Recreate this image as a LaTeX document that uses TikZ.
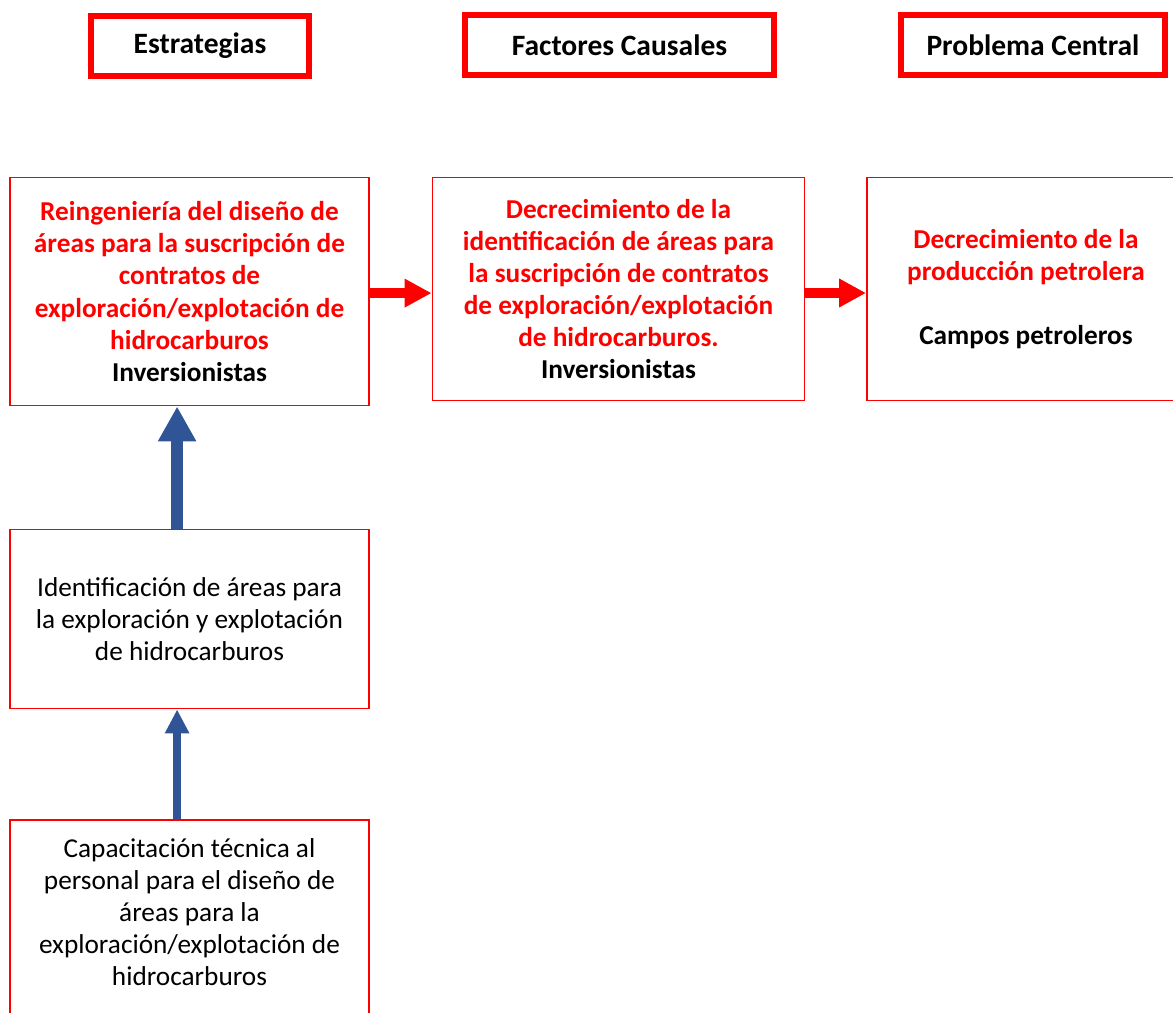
\documentclass[tikz,border=0pt]{standalone}
\usepackage{fontspec}
\setmainfont{Carlito}
\usepackage{xcolor}
\usetikzlibrary{arrows.meta, positioning}
\definecolor{arrowblue}{HTML}{2F5597}

\begin{document}
\begin{tikzpicture}[x=0.025cm, y=-0.025cm, font=\fontsize{19.4}{22.8}\selectfont]
        \tikzstyle{header} = [rectangle, draw=red, line width=4.3pt, minimum height=1.5cm, inner sep=0pt, font=\fontsize{21}{24}\selectfont\bfseries]
        \tikzstyle{box} = [rectangle, draw=red, line width=1.3pt, align=center, inner sep=0pt]
        \tikzstyle{cause} = [box, text=red, font=\fontsize{19.4}{22.8}\selectfont\bfseries]
        \tikzstyle{redline} = [draw, red, line width=0.25cm, -{Triangle[length=0.675cm, width=0.675cm]}]
        \tikzstyle{blueline} = [draw, arrowblue, line width=0.3cm, -{Triangle[length=0.875cm, width=0.9cm]}]
        \tikzstyle{thinblueline} = [draw, arrowblue, line width=0.2cm, -{Triangle[length=0.6cm, width=0.575cm]}]

        \clip (0,0) rectangle (1173,1013);

        \node [header, minimum width=5.45cm] (estrategias) at (200,46) {Estrategias};
        \node [header, minimum width=7.725cm] (factores) at (619.5,45) {Factores Causales};
        \node [header, minimum width=6.6cm] (problema) at (1033,45) {Problema Central};

        \node [cause, minimum width=8.975cm, minimum height=5.7cm] (reingenieria) at (189.5,291.5) {Reingeniería del diseño de\\áreas para la suscripción de\\contratos de\\exploración/explotación de\\hidrocarburos\\\textcolor{black}{Inversionistas}};
        \node [cause, minimum width=9.3cm, minimum height=5.575cm] (decrecimiento) at (618.5,289) {Decrecimiento de la\\identificación de áreas para\\la suscripción de contratos\\de exploración/explotación\\de hidrocarburos.\\\textcolor{black}{Inversionistas}};
        \node [cause, minimum width=7.95cm, minimum height=5.575cm] (produccion) at (1026,289) {Decrecimiento de la\\producción petrolera\\[22.8pt]\textcolor{black}{Campos petroleros}};

        \node [box, minimum width=8.975cm, minimum height=4.475cm] (identificacion) at (189.5,619) {Identificación de áreas para\\la exploración y explotación\\de hidrocarburos};
        \node [box, minimum width=8.975cm, minimum height=5.4cm] (capacitacion) at (189.5,928) {Capacitación técnica al\\personal para el diseño de\\áreas para la\\exploración/explotación de\\hidrocarburos\\ \mbox{}};

        \path [redline] ([yshift=-0.04cm]reingenieria.east) -- ([yshift=-0.04cm]reingenieria.east -| decrecimiento.west);
        \path [redline] ([yshift=-0.1cm]decrecimiento.east) -- ([yshift=-0.1cm]produccion.west);

        \path [blueline] ([xshift=-0.31cm]identificacion.north) -- ([xshift=-0.31cm]reingenieria.south);
        \path [thinblueline] ([xshift=-0.31cm]capacitacion.north) -- ([xshift=-0.31cm]identificacion.south);
    \end{tikzpicture}
\end{document}
